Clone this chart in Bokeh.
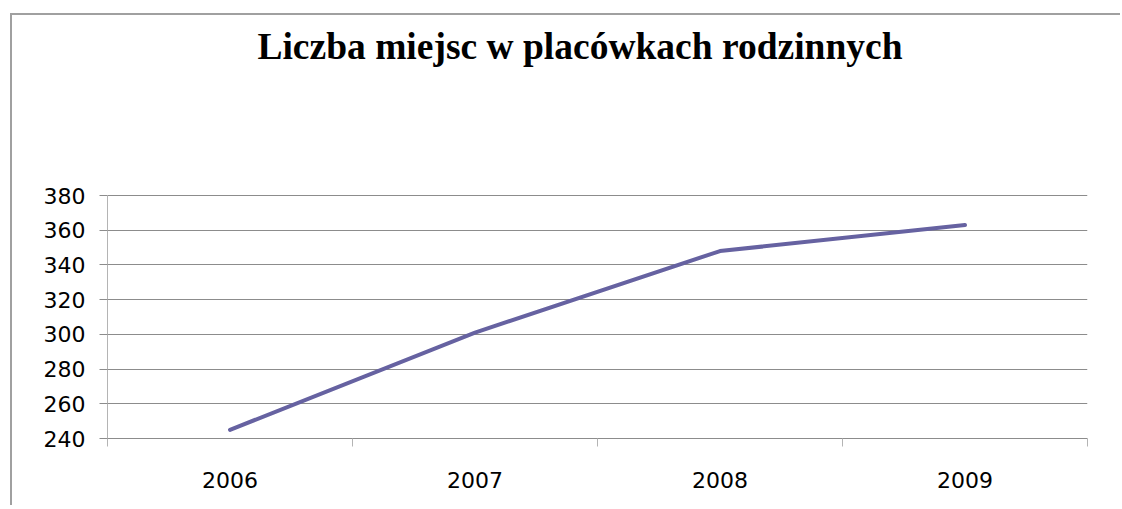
from bokeh.plotting import figure
from bokeh.models import FixedTicker, Range1d, Label
from bokeh.embed import file_html
from bokeh.resources import INLINE

title_text = "Liczba miejsc w placówkach rodzinnych"
years = ["2006", "2007", "2008", "2009"]
values = [245, 301, 348, 363]
y_ticks = [240, 260, 280, 300, 320, 340, 360, 380]

xs = [i + 0.5 for i in range(len(years))]

# layout (px): data area 243 px tall, 180 px of title space above it
data_h, top_space = 243, 180
y_min, y_max = y_ticks[0], y_ticks[-1]
y_top = y_max + top_space * (y_max - y_min) / data_h

p = figure(width=1110, height=492, output_backend="svg", toolbar_location=None,
           x_range=Range1d(0, len(years)), y_range=Range1d(y_min, y_top))
p.styles = {"margin-left": "12px", "margin-top": "15px",
            "box-shadow": "-2px -2px 0 0 #a0a0a0"}
p.min_border_left = 95
p.min_border_right = 35
p.min_border_top = 0
p.min_border_bottom = 69
p.outline_line_color = None
p.background_fill_color = "white"
p.border_fill_color = "white"

p.line(xs, values, line_color="#6662a1", line_width=4, line_cap="round", line_join="round")

# y axis
p.yaxis.ticker = FixedTicker(ticks=y_ticks, minor_ticks=[])
p.yaxis.bounds = (y_min, y_max)
p.yaxis.axis_line_color = "#b4b4b4"
p.yaxis.major_tick_line_color = "#8c8c8c"
p.yaxis.major_tick_out = 8
p.yaxis.major_tick_in = 0
p.yaxis.minor_tick_line_color = None
p.yaxis.major_label_text_font = "DejaVu Sans"
p.yaxis.major_label_text_font_size = "22px"
p.yaxis.major_label_text_color = "black"
p.yaxis.major_label_standoff = 14

# x axis: labels at category centres, ticks at boundaries
p.xaxis.ticker = FixedTicker(ticks=xs, minor_ticks=list(range(len(years) + 1)))
p.xaxis.major_label_overrides = {x: y for x, y in zip(xs, years)}
p.xaxis.axis_line_color = "#8c8c8c"
p.xaxis.major_tick_line_color = None
p.xaxis.major_tick_out = 0
p.xaxis.major_tick_in = 0
p.xaxis.minor_tick_line_color = "#b4b4b4"
p.xaxis.minor_tick_out = 8
p.xaxis.minor_tick_in = 0
p.xaxis.major_label_text_font = "DejaVu Sans"
p.xaxis.major_label_text_font_size = "22px"
p.xaxis.major_label_text_color = "black"
p.xaxis.major_label_standoff = 25

p.xgrid.grid_line_color = None
p.ygrid.grid_line_color = "#8c8c8c"
p.ygrid.grid_line_width = 1

p.add_layout(Label(x=472.5, y=391.7, x_units="screen", y_units="screen",
                   text=title_text, text_align="center", text_baseline="alphabetic",
                   text_font="Liberation Serif", text_font_style="bold",
                   text_font_size="37.5px", text_color="black"))

open("out.html", "w").write(file_html(p, INLINE))
